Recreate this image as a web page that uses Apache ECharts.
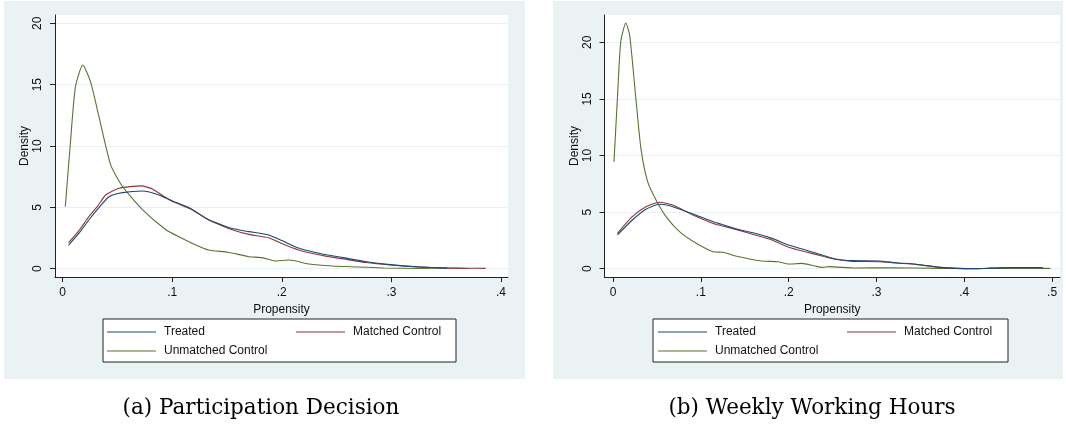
<!DOCTYPE html>
<html>
<head>
<meta charset="utf-8">
<script src="https://cdn.jsdelivr.net/npm/echarts@6/dist/echarts.min.js"></script>
<style>
html,body{margin:0;padding:0;background:#fff;}
#c{width:1066px;height:427px;}
</style>
</head>
<body>
<div id="c"></div>
<script>
// ---- Data ----
const seriesNames = ['Treated', 'Matched Control', 'Unmatched Control'];
const xTicksA = [0, 0.1, 0.2, 0.3, 0.4];
const xTicksB = [0, 0.1, 0.2, 0.3, 0.4, 0.5];
const yTicksA = [0, 5, 10, 15, 20];
const yTicksB = [0, 5, 10, 15, 20];
const captions = ['(a) Participation Decision', '(b) Weekly Working Hours'];

// Panel (a) Participation Decision: [propensity, density]
const aTreated = [[0.0055,1.93],[0.015,2.9],[0.024,3.97],[0.033,4.95],[0.0424,5.87],[0.0547,6.2],[0.0731,6.34],[0.0854,6.09],[0.1007,5.5],[0.116,4.95],[0.131,4.1],[0.139,3.78],[0.154,3.29],[0.170,3.02],[0.188,2.75],[0.2,2.3],[0.216,1.66],[0.237,1.2],[0.256,0.9],[0.277,0.57],[0.299,0.33],[0.323,0.16],[0.351,0.05]];
const aMatched = [[0.0055,2.12],[0.015,3.1],[0.024,4.24],[0.032,5.1],[0.0393,6.01],[0.0516,6.56],[0.0715,6.75],[0.0823,6.48],[0.0976,5.6],[0.108,5.2],[0.116,4.9],[0.131,4.1],[0.139,3.75],[0.154,3.2],[0.170,2.8],[0.188,2.53],[0.2,2.05],[0.216,1.5],[0.237,1.07],[0.256,0.8],[0.277,0.5],[0.299,0.3],[0.323,0.15],[0.35,0.06],[0.37,0.04],[0.386,0.03]];
const aUnmatched = [[0.0025,5.06],[0.0071,10.2],[0.0117,14.8],[0.0184,16.6],[0.0255,15.25],[0.0332,12.4],[0.0439,8.46],[0.0547,6.7],[0.0731,4.79],[0.0946,3.16],[0.108,2.53],[0.12,2.0],[0.133,1.53],[0.151,1.34],[0.170,0.98],[0.182,0.9],[0.194,0.63],[0.207,0.71],[0.225,0.38],[0.246,0.22],[0.271,0.14],[0.293,0.06],[0.326,0.02],[0.345,0.05],[0.37,0.02]];

// Panel (b) Weekly Working Hours
const bTreated = [[0.005,2.98],[0.022,4.3],[0.0375,5.25],[0.0528,5.69],[0.068,5.48],[0.091,4.83],[0.114,4.15],[0.1235,3.92],[0.1407,3.5],[0.1617,3.13],[0.181,2.68],[0.2,2.09],[0.219,1.65],[0.238,1.21],[0.253,0.86],[0.2726,0.71],[0.303,0.68],[0.322,0.53],[0.345,0.39],[0.372,0.12],[0.391,0.03],[0.414,0.01],[0.43,0.05],[0.445,0.09],[0.49,0.08]];
const bMatched = [[0.005,3.13],[0.022,4.6],[0.0375,5.48],[0.0528,5.87],[0.068,5.63],[0.091,4.74],[0.114,4.0],[0.1235,3.8],[0.1407,3.45],[0.1617,2.98],[0.181,2.53],[0.2,1.9],[0.219,1.5],[0.238,1.12],[0.253,0.83],[0.2726,0.65],[0.303,0.62],[0.322,0.5],[0.345,0.38],[0.372,0.12],[0.391,0.03],[0.414,0.01],[0.43,0.05],[0.445,0.1],[0.488,0.1]];
const bUnmatched = [[0.0011,9.45],[0.005,15.05],[0.0088,20.05],[0.0146,21.7],[0.019,20.6],[0.026,15.05],[0.0318,10.6],[0.0394,7.69],[0.049,6.07],[0.0604,4.6],[0.0757,3.27],[0.0948,2.24],[0.114,1.5],[0.1255,1.45],[0.1407,1.1],[0.169,0.68],[0.188,0.62],[0.2,0.41],[0.215,0.47],[0.23,0.24],[0.238,0.12],[0.246,0.18],[0.276,0.06],[0.315,0.09],[0.372,0.03],[0.43,0.02],[0.498,0.03]];

// ---- Styling ----
const colors = ['#1a476f', '#90353b', '#55752f'];
const panelBg = '#eaf2f3';
const txt = '#111';
const fontSans = 'Liberation Sans, Arial, sans-serif';

function fmtX(v) {
  if (Math.abs(v) < 1e-9) return '0';
  return String(Math.round(v * 10) / 10).replace(/^0\./, '.');
}

function xAxisFor(gridIndex, ticks, min, max) {
  return {
    type: 'value', gridIndex: gridIndex, min: min, max: max,
    name: 'Propensity', nameLocation: 'middle', nameGap: 22,
    nameTextStyle: { color: txt, fontFamily: fontSans, fontSize: 12 },
    axisLine: { onZero: false, lineStyle: { color: '#222', width: 1 } },
    axisTick: { show: true, length: 5, customValues: ticks, lineStyle: { color: '#222' } },
    axisLabel: { customValues: ticks, formatter: fmtX, color: txt, fontFamily: fontSans, fontSize: 12, margin: 10 },
    splitLine: { show: false }
  };
}
function yAxisFor(gridIndex, ticks, min, max) {
  return {
    type: 'value', gridIndex: gridIndex, min: min, max: max,
    name: 'Density', nameLocation: 'middle', nameGap: 24, nameRotate: 90,
    nameTextStyle: { color: txt, fontFamily: fontSans, fontSize: 12 },
    axisLine: { show: true, onZero: false, lineStyle: { color: '#222', width: 1 } },
    axisTick: { show: true, length: 5, customValues: ticks, lineStyle: { color: '#222' } },
    axisLabel: { customValues: ticks, rotate: 90, color: txt, fontFamily: fontSans, fontSize: 12, margin: 11 },
    splitLine: { show: true, lineStyle: { color: '#e8f0f1', width: 1 } }
  };
}
function lineSeries(name, data, xi, color) {
  return {
    type: 'line', name: name, data: data, xAxisIndex: xi, yAxisIndex: xi,
    showSymbol: false, symbol: 'none', smooth: 0.2,
    lineStyle: { color: color, width: 1.1 }, itemStyle: { color: color },
    animation: false, silent: true
  };
}
function legendFor(names, left, top) {
  return {
    data: names, orient: 'vertical', left: left, top: top, padding: 0,
    icon: 'rect', itemWidth: 49, itemHeight: 1, itemGap: 5, selectedMode: false,
    textStyle: { color: txt, fontFamily: fontSans, fontSize: 12, lineHeight: 14, padding: [0, 0, 0, 3] }
  };
}

const option = {
  animation: false,
  color: colors,
  graphic: [
    { type: 'rect', z: -10, silent: true, shape: { x: 4, y: 1, width: 521, height: 378 }, style: { fill: panelBg } },
    { type: 'rect', z: -10, silent: true, shape: { x: 553, y: 1, width: 510, height: 378 }, style: { fill: panelBg } },
    { type: 'rect', z: -5, silent: true, shape: { x: 103, y: 319, width: 353, height: 43 }, style: { fill: '#fff', stroke: '#222', lineWidth: 1 } },
    { type: 'rect', z: -5, silent: true, shape: { x: 653, y: 319, width: 355, height: 43 }, style: { fill: '#fff', stroke: '#222', lineWidth: 1 } },
    { type: 'text', silent: true, x: 261, y: 408, style: { text: captions[0], fill: '#000', font: '21.5px "DejaVu Serif", serif', textAlign: 'center', textVerticalAlign: 'middle' } },
    { type: 'text', silent: true, x: 812, y: 408, style: { text: captions[1], fill: '#000', font: '21.5px "DejaVu Serif", serif', textAlign: 'center', textVerticalAlign: 'middle' } }
  ],
  grid: [
    { left: 55, top: 15, width: 453, height: 262, show: true, backgroundColor: '#fff', borderWidth: 0, containLabel: false },
    { left: 604.5, top: 15, width: 455.5, height: 262, show: true, backgroundColor: '#fff', borderWidth: 0, containLabel: false }
  ],
  xAxis: [
    xAxisFor(0, xTicksA, -0.0069, 0.4064),
    xAxisFor(1, xTicksB, -0.0097, 0.509)
  ],
  yAxis: [
    yAxisFor(0, yTicksA, -0.676, 20.68),
    yAxisFor(1, yTicksB, -0.733, 22.41)
  ],
  legend: [
    legendFor([seriesNames[0], seriesNames[2]], 107, 325),
    legendFor([seriesNames[1]], 296, 325),
    legendFor([seriesNames[0], seriesNames[2]], 658, 325),
    legendFor([seriesNames[1]], 847, 325)
  ],
  series: [
    lineSeries(seriesNames[2], aUnmatched, 0, colors[2]),
    lineSeries(seriesNames[1], aMatched, 0, colors[1]),
    lineSeries(seriesNames[0], aTreated, 0, colors[0]),
    lineSeries(seriesNames[2], bUnmatched, 1, colors[2]),
    lineSeries(seriesNames[1], bMatched, 1, colors[1]),
    lineSeries(seriesNames[0], bTreated, 1, colors[0])
  ]
};

const chart = echarts.init(document.getElementById('c'), null, { renderer: 'canvas' });
chart.setOption(option);
</script>
</body>
</html>
